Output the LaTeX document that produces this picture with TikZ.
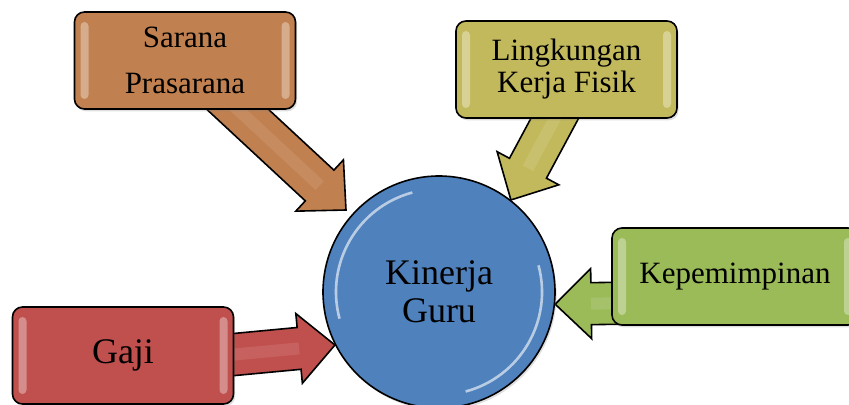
\documentclass[tikz,border=0pt]{standalone}
\usepackage{fontspec}
\setmainfont{Liberation Serif}
\usetikzlibrary{calc,shadows}

\definecolor{brownbox}{RGB}{192,128,79}
\definecolor{olivebox}{RGB}{194,185,92}
\definecolor{redbox}{RGB}{192,80,77}
\definecolor{greenbox}{RGB}{155,187,89}
\definecolor{bluebox}{RGB}{79,129,189}

\pgfdeclarelayer{bg}
\pgfsetlayers{bg,main}

% block arrow: colour, tail, tip
\newcommand{\fatarrow}[3]{%
  \coordinate (hb) at ($(#3)!18pt!(#2)$);
  \filldraw[arrowline, fill=#1] ($(#2)!10.5pt!90:(#3)$) -- ($(hb)!10.5pt!90:(#3)$)
    -- ($(hb)!17.5pt!90:(#3)$) -- (#3) -- ($(hb)!17.5pt!-90:(#3)$)
    -- ($(hb)!10.5pt!-90:(#3)$) -- ($(#2)!10.5pt!-90:(#3)$) -- cycle;
  \draw[white, opacity=0.1, line width=6pt] (#2) -- (hb);
}

\begin{document}
\begin{tikzpicture}[x=0.5pt, y=-0.5pt,
    box/.style={draw=black, line width=0.8pt, rounded corners=5pt,
      minimum width=110.5pt, minimum height=48.5pt, align=center,
      font=\fontsize{15.5}{16}\selectfont,
      drop shadow={opacity=0.25, shadow xshift=0.8pt, shadow yshift=-1.2pt},
      path picture={
        \fill[white, opacity=0.35, rounded corners=2pt]
          ([xshift=3pt,yshift=-5pt]path picture bounding box.north west) rectangle
          ([xshift=7pt,yshift=5pt]path picture bounding box.south west);
        \fill[white, opacity=0.35, rounded corners=2pt]
          ([xshift=-3pt,yshift=-5pt]path picture bounding box.north east) rectangle
          ([xshift=-7pt,yshift=5pt]path picture bounding box.south east);}},
    arrowline/.style={draw=black, line width=0.8pt, line join=miter},
    glint/.style={white, opacity=0.6, line width=1.3pt}]
  \useasboundingbox (0,0) rectangle (849,405);

  % Nodes
  \node[circle, draw=black, line width=0.8pt, fill=bluebox, minimum size=116pt,
    align=center, font=\fontsize{18}{19}\selectfont,
    drop shadow={opacity=0.25, shadow xshift=0.8pt, shadow yshift=-1.2pt}] (kinerja) at (439,292) {Kinerja\\Guru};
  \draw[glint] ($(kinerja.center)+(105:51.5pt)$) arc[start angle=105, end angle=195, radius=51.5pt];
  \draw[glint] ($(kinerja.center)+(-75:51.5pt)$) arc[start angle=-75, end angle=15, radius=51.5pt];

  \node[box, fill=brownbox, font=\fontsize{15.5}{23}\selectfont] (sarana) at (185,60.5) {Sarana\\Prasarana};
  \node[box, fill=olivebox] (lingkungan) at (566.5,69.5) {Lingkungan\\Kerja Fisik};
  \node[box, fill=redbox, font=\fontsize{18}{19}\selectfont] (gaji) at (123,355.5) {Gaji};
  \node[box, fill=greenbox, minimum width=123pt] (kepemimpinan) at (735,276.5) {Kepemimpinan};

  % Edges
  \coordinate (saranatip) at ($(kinerja.center)+(138.6:62pt)$);
  \coordinate (lingkungantail) at ([xshift=7.25pt]lingkungan.center);
  \coordinate (gajitail) at ([yshift=-4.75pt]gaji.center);
  \coordinate (kepemimpinantail) at ([yshift=-12.5pt]kepemimpinan.center);
  \begin{pgfonlayer}{bg}
    \fatarrow{brownbox}{sarana.center}{saranatip}
    \fatarrow{olivebox}{lingkungantail}{kinerja.52}
    \fatarrow{redbox}{gajitail}{kinerja.207}
    \fatarrow{greenbox}{kepemimpinantail}{kinerja.354}
  \end{pgfonlayer}
\end{tikzpicture}
\end{document}
